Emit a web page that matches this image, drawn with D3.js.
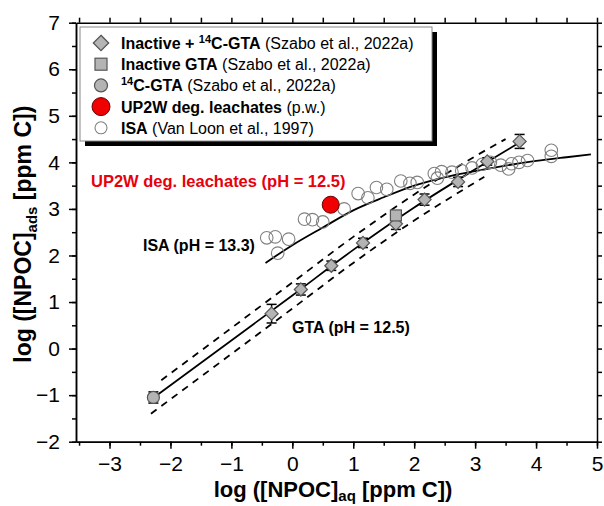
<!DOCTYPE html>
<html>
<head>
<meta charset="utf-8">
<script src="https://cdn.jsdelivr.net/npm/d3@7"></script>
<style>
  body { margin: 0; background: #fff; }
  svg { font-family: "Liberation Sans", Arial, sans-serif; }
</style>
</head>
<body>
<div class="container"></div>
<script>
// data (log units): [x, y, error]
const gtaDiamonds = [[-0.34, 0.75, 0.2], [0.14, 1.27, 0.12], [0.64, 1.78, 0.1], [1.16, 2.27, 0.1],
                     [1.70, 2.68, 0.12], [2.17, 3.20, 0.12], [2.72, 3.58, 0.1], [3.20, 4.02, 0.08], [3.73, 4.45, 0.15]];
const gtaSquares = [[1.70, 2.86, 0.1]];
const gtaCircles = [[-2.28, -1.05, 0.12]];
const up2w = [[0.63, 3.09]];
const isa = [[-0.42, 2.38], [-0.28, 2.40], [-0.06, 2.35], [-0.24, 2.05], [0.20, 2.78], [0.33, 2.77],
             [0.50, 2.72], [0.85, 3.00], [1.08, 3.33], [1.24, 3.24], [1.38, 3.46], [1.55, 3.42],
             [1.78, 3.60], [1.93, 3.55], [2.05, 3.57], [2.33, 3.76], [2.45, 3.80], [2.38, 3.66],
             [2.62, 3.79], [2.78, 3.82], [2.95, 3.88], [3.12, 3.96], [3.25, 4.00], [3.42, 3.94],
             [3.55, 3.86], [3.60, 3.97], [3.72, 4.00], [3.86, 4.04], [4.25, 4.26], [4.25, 4.13]];
const isaFit = [[-0.44, 1.84], [0, 2.22], [0.5, 2.6], [1.0, 2.97], [1.5, 3.25], [2.0, 3.5], [2.5, 3.68],
                [3.0, 3.81], [3.5, 3.93], [4.0, 4.03], [4.5, 4.11], [4.9, 4.17]];
const gtaFit = [[-2.25, -1.03], [0, 1.14], [1, 2.12], [2, 3.03], [3, 3.85], [3.72, 4.42]];
const gtaUpper = [[-2.15, -0.68], [0, 1.42], [1, 2.40], [2, 3.31], [3, 4.13], [3.5, 4.50]];
const gtaLower = [[-2.32, -1.40], [0, 0.86], [1, 1.84], [2, 2.75], [3, 3.57], [3.15, 3.69]];

const xTicks = [-3, -2, -1, 0, 1, 2, 3, 4, 5];
const yTicks = [-2, -1, 0, 1, 2, 3, 4, 5, 6, 7];

const W = 604, H = 506;
const svg = d3.select(".container").append("svg")
  .attr("width", W)
  .attr("height", H);

const x = d3.scaleLinear().domain([-3.55, 5]).range([76, 597]);
const y = d3.scaleLinear().domain([-2, 7]).range([441.7, 22.7]);

const halves = d3.range(-3.5, 5.01, 0.5);
const yHalves = d3.range(-2, 7.01, 0.5);
const fmt = d => d < 0 ? "\u2212" + Math.abs(d) : d;

// axes
function styleAxis(g) {
  g.select(".domain").attr("stroke", "#000").attr("stroke-width", 1.5);
  g.selectAll(".tick line").attr("stroke", "#000").attr("stroke-width", 1.5);
  g.selectAll(".tick text").attr("fill", "#000").style("font-size", "21px");
}
svg.append("g").attr("transform", "translate(0," + y(-2) + ")")
  .call(d3.axisBottom(x).tickValues(halves).tickSize(4).tickFormat("").tickSizeOuter(0)).call(styleAxis);
svg.append("g").attr("transform", "translate(0," + y(-2) + ")")
  .call(d3.axisBottom(x).tickValues(xTicks).tickSize(7).tickPadding(7).tickFormat(fmt).tickSizeOuter(0)).call(styleAxis);
svg.append("g").attr("transform", "translate(0," + y(7) + ")")
  .call(d3.axisTop(x).tickValues(halves).tickSize(5).tickFormat("").tickSizeOuter(0)).call(styleAxis);
svg.append("g").attr("transform", "translate(" + x(-3.55) + ",0)")
  .call(d3.axisLeft(y).tickValues(yHalves).tickSize(4).tickFormat("").tickSizeOuter(0)).call(styleAxis);
svg.append("g").attr("transform", "translate(" + x(-3.55) + ",0)")
  .call(d3.axisLeft(y).tickValues(yTicks).tickSize(7).tickPadding(9).tickFormat(fmt).tickSizeOuter(0)).call(styleAxis);
svg.append("g").attr("transform", "translate(" + x(5) + ",0)")
  .call(d3.axisRight(y).tickValues(yHalves).tickSize(5).tickFormat("").tickSizeOuter(0)).call(styleAxis);

// axis titles
const xt = svg.append("text").attr("x", 333).attr("y", 497)
  .attr("text-anchor", "middle").style("font-size", "22px").style("font-weight", "bold");
xt.append("tspan").text("log ([NPOC]");
xt.append("tspan").attr("dy", 4).style("font-size", "15px").text("aq");
xt.append("tspan").attr("dy", -4).text(" [ppm C])");

const yt = svg.append("text").attr("transform", "translate(31," + ((y(-2) + y(7)) / 2 + 2) + ") rotate(-90)")
  .attr("text-anchor", "middle").style("font-size", "23px").style("font-weight", "bold");
yt.append("tspan").text("log ([NPOC]");
yt.append("tspan").attr("dy", 6).style("font-size", "15px").text("ads");
yt.append("tspan").attr("dy", -6).text(" [ppm C])");

const line = d3.line().x(d => x(d[0])).y(d => y(d[1])).curve(d3.curveMonotoneX);

// fit lines
svg.append("path").datum(isaFit).attr("d", line)
  .attr("fill", "none").attr("stroke", "#000").attr("stroke-width", 1.8);
svg.append("path").datum(gtaFit).attr("d", line)
  .attr("fill", "none").attr("stroke", "#000").attr("stroke-width", 1.8);
[gtaUpper, gtaLower].forEach(function (l) {
  svg.append("path").datum(l).attr("d", line)
    .attr("fill", "none").attr("stroke", "#000").attr("stroke-width", 1.8)
    .attr("stroke-dasharray", "7,6");
});

// ISA open circles
svg.append("g").selectAll("circle").data(isa).join("circle")
  .attr("cx", d => x(d[0])).attr("cy", d => y(d[1])).attr("r", 6.3)
  .attr("fill", "none").attr("stroke", "#808080").attr("stroke-width", 1.1);

// error bars
const errG = svg.append("g");
gtaDiamonds.concat(gtaSquares, gtaCircles).forEach(function (d) {
  errG.append("line").attr("x1", x(d[0])).attr("x2", x(d[0]))
    .attr("y1", y(d[1] - d[2])).attr("y2", y(d[1] + d[2])).attr("stroke", "#000").attr("stroke-width", 1.5);
  [d[1] - d[2], d[1] + d[2]].forEach(function (v) {
    errG.append("line").attr("x1", x(d[0]) - 5).attr("x2", x(d[0]) + 5)
      .attr("y1", y(v)).attr("y2", y(v)).attr("stroke", "#000").attr("stroke-width", 1.5);
  });
});

const grayFill = "#b4b4b4", grayStroke = "#555";
svg.append("g").selectAll("path").data(gtaDiamonds).join("path")
  .attr("transform", d => "translate(" + x(d[0]) + "," + y(d[1]) + ")")
  .attr("d", d3.symbol(d3.symbolDiamond2, 110))
  .attr("fill", grayFill).attr("stroke", grayStroke).attr("stroke-width", 1.2);
svg.append("g").selectAll("rect").data(gtaSquares).join("rect")
  .attr("x", d => x(d[0]) - 5.5).attr("y", d => y(d[1]) - 5.5).attr("width", 11).attr("height", 11)
  .attr("fill", grayFill).attr("stroke", grayStroke).attr("stroke-width", 1.2);
svg.append("g").selectAll("circle").data(gtaCircles).join("circle")
  .attr("cx", d => x(d[0])).attr("cy", d => y(d[1])).attr("r", 6)
  .attr("fill", grayFill).attr("stroke", grayStroke).attr("stroke-width", 1.2);
svg.append("g").selectAll("circle").data(up2w).join("circle")
  .attr("cx", d => x(d[0])).attr("cy", d => y(d[1])).attr("r", 8.5)
  .attr("fill", "#f00000").attr("stroke", "#600").attr("stroke-width", 1);

// annotations
svg.append("text").attr("x", 91).attr("y", 187).style("font-size", "16.5px").style("font-weight", "bold")
  .attr("fill", "#e8000b").text("UP2W deg. leachates (pH = 12.5)");
svg.append("text").attr("x", 143).attr("y", 251).style("font-size", "16px").style("font-weight", "bold")
  .text("ISA (pH = 13.3)");
svg.append("text").attr("x", 292).attr("y", 333).style("font-size", "16px").style("font-weight", "bold")
  .text("GTA (pH = 12.5)");

// legend
const lx = 80, ly = 27, lw = 352, lh = 114;
svg.append("rect").attr("x", lx + 5).attr("y", ly + 5).attr("width", lw).attr("height", lh).attr("fill", "#000");
svg.append("rect").attr("x", lx).attr("y", ly).attr("width", lw).attr("height", lh)
  .attr("fill", "#fff").attr("stroke", "#888").attr("stroke-width", 1);

// bold parts: [text, superscript?]
const legItems = [
  { sym: "diamond", bold: [["Inactive + ", false], ["14", true], ["C-GTA", false]], rest: " (Szabo et al., 2022a)" },
  { sym: "square", bold: [["Inactive GTA", false]], rest: " (Szabo et al., 2022a)" },
  { sym: "circle", bold: [["14", true], ["C-GTA", false]], rest: " (Szabo et al., 2022a)" },
  { sym: "red", bold: [["UP2W deg. leachates", false]], rest: " (p.w.)" },
  { sym: "open", bold: [["ISA", false]], rest: " (Van Loon et al., 1997)" }
];
legItems.forEach(function (it, i) {
  const cy = ly + 16 + i * 21.2, cx = lx + 21;
  if (it.sym === "diamond") {
    svg.append("path").attr("transform", "translate(" + cx + "," + cy + ")")
      .attr("d", d3.symbol(d3.symbolDiamond2, 150)).attr("fill", grayFill).attr("stroke", grayStroke).attr("stroke-width", 1.3);
  } else if (it.sym === "square") {
    svg.append("rect").attr("x", cx - 6).attr("y", cy - 6).attr("width", 12).attr("height", 12)
      .attr("fill", grayFill).attr("stroke", grayStroke).attr("stroke-width", 1.2);
  } else if (it.sym === "circle") {
    svg.append("circle").attr("cx", cx).attr("cy", cy).attr("r", 6.5)
      .attr("fill", grayFill).attr("stroke", grayStroke).attr("stroke-width", 1.2);
  } else if (it.sym === "red") {
    svg.append("circle").attr("cx", cx).attr("cy", cy).attr("r", 9)
      .attr("fill", "#f00000").attr("stroke", "#600").attr("stroke-width", 1);
  } else {
    svg.append("circle").attr("cx", cx).attr("cy", cy).attr("r", 6)
      .attr("fill", "none").attr("stroke", "#808080").attr("stroke-width", 1.1);
  }
  const t = svg.append("text").attr("x", lx + 41).attr("y", cy + 6).style("font-size", "16px");
  let shifted = false;
  it.bold.forEach(function (b) {
    const s = t.append("tspan").style("font-weight", "bold").text(b[0]);
    if (b[1]) { s.attr("dy", -6).style("font-size", "11px"); shifted = true; }
    else if (shifted) { s.attr("dy", 6); shifted = false; }
  });
  t.append("tspan").text(it.rest);
});
</script>
</body>
</html>
